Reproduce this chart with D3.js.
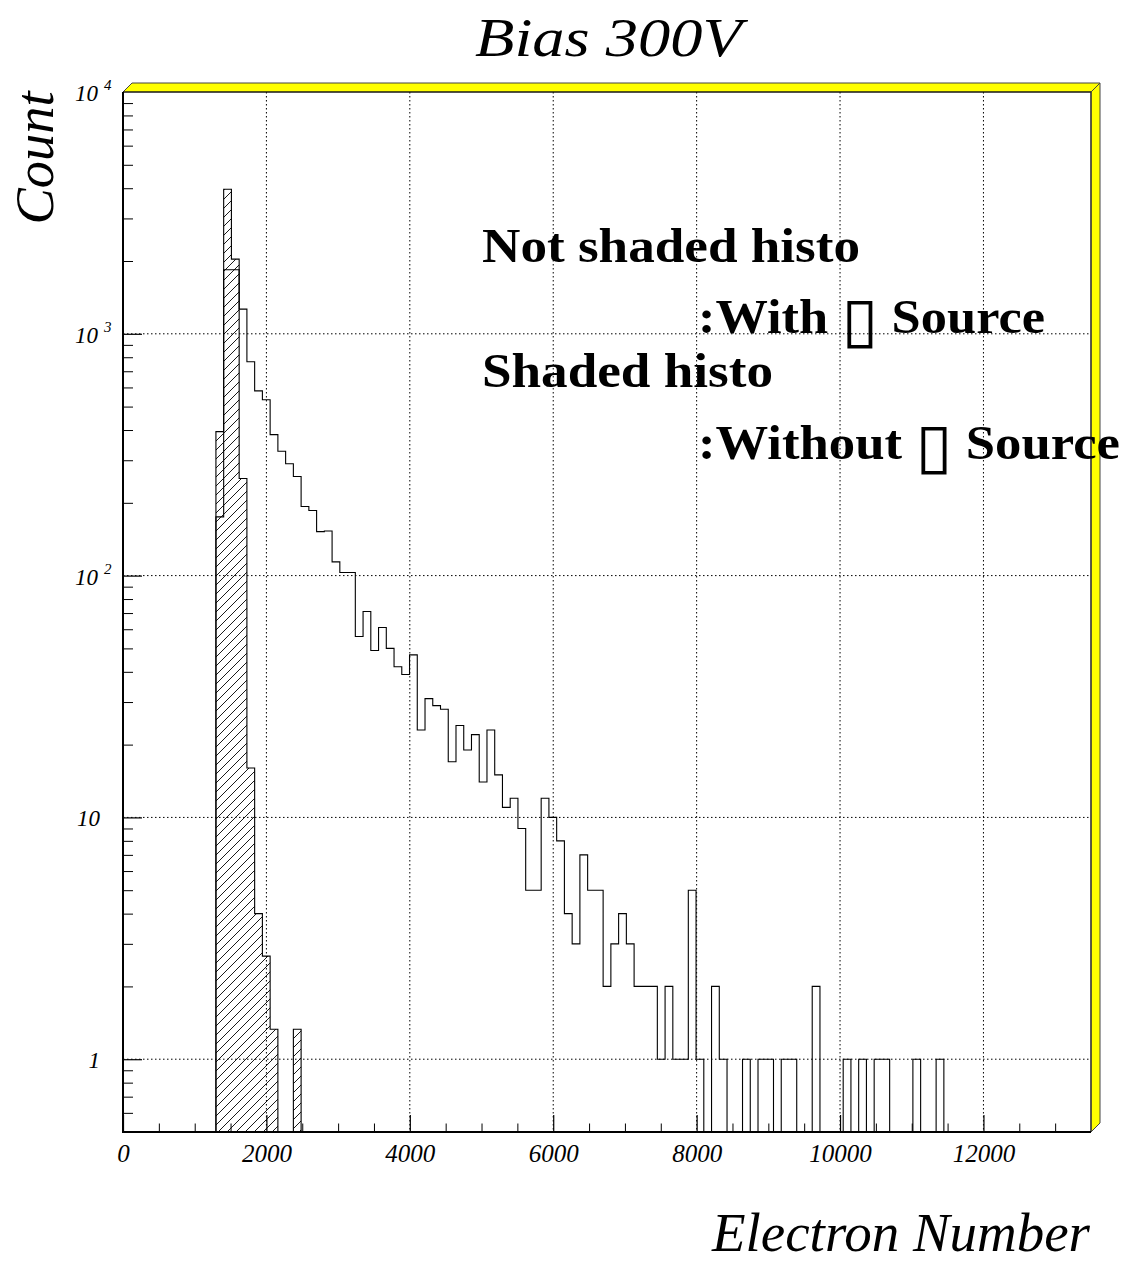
<!DOCTYPE html>
<html>
<head>
<meta charset="utf-8">
<script src="https://cdn.jsdelivr.net/npm/d3@7"></script>
<style>
  body { margin: 0; background: #fff; }
  svg text { font-family: "Liberation Serif", "Times New Roman", serif; }
</style>
</head>
<body>
<div id="chart"></div>
<script>
// Histogram binning (ROOT style): 125 bins from 0 to 13500
const xMin = 0;
const xMax = 13500;
const nBins = 125;
const firstBin = 12; // first non-empty bin of both histograms

// Counts per bin starting at firstBin, "With source" (not shaded)
const withSource = [
  175, 1840, 1840, 1265, 766, 581, 534, 383, 327, 290,
  257, 193, 186, 152, 153, 114, 103, 103, 56, 71,
  49, 61, 50, 42, 39, 47, 23, 31, 29, 28,
  17, 24, 19, 22, 14, 23, 15, 11, 12, 9,
  5, 5, 12, 10, 8, 4, 3, 7, 5, 5,
  2, 3, 4, 3, 2, 2, 2, 1, 2, 1,
  1, 5, 1, 0, 2, 1, 0, 0, 1, 0,
  1, 1, 0, 1, 1, 0, 0, 2, 0, 0,
  0, 1, 0, 1, 0, 1, 1, 0, 0, 0,
  1, 0, 0, 1
];

// Counts per bin starting at firstBin, "Without source" (shaded, normalised)
const withoutSource = [394, 3960, 2036, 252, 16, 4, 2.67, 1.33, 0, 0, 1.33];

// Axis ticks
const xLabelTicks = [0, 2000, 4000, 6000, 8000, 10000, 12000];
const xGridTicks = [2000, 4000, 6000, 8000, 10000, 12000];
const yDecades = [1, 10, 100, 1000, 10000];
const yLabels = [
  { v: 10000, base: "10", exp: "4" },
  { v: 1000, base: "10", exp: "3" },
  { v: 100, base: "10", exp: "2" },
  { v: 10, base: "10", exp: "" },
  { v: 1, base: "1", exp: "" },
];

const titleText = "Bias 300V";
const xTitle = "Electron Number";
const yTitle = "Count";
const boxChar = "\u25AF";
const legendLines = [
  "Not shaded histo",
  ":With " + boxChar + " Source",
  "Shaded histo",
  ":Without " + boxChar + " Source",
];

// Ukuran
const width = 1127;
const height = 1262;
const frame = { left: 123, right: 1091, top: 92, bottom: 1132 };
const bevel = 9;
const yMin = 0.5;

const svg = d3
  .select("#chart")
  .append("svg")
  .attr("width", width)
  .attr("height", height);

svg.append("rect").attr("width", width).attr("height", height).attr("fill", "#fff");

// Scales
const x = d3.scaleLinear().domain([xMin, xMax]).range([frame.left, frame.right]);
const y = d3.scaleLog().domain([yMin, 10000]).range([frame.bottom, frame.top]);

const binWidth = (xMax - xMin) / nBins;

// full bin arrays (empty bins = 0)
function fullBins(values) {
  const arr = new Array(nBins).fill(0);
  values.forEach((v, i) => (arr[firstBin + i] = v));
  return arr;
}

function stepPoints(values) {
  const pts = values.map((v, i) => [xMin + i * binWidth, v]);
  pts.push([xMax, values[values.length - 1]]);
  return pts;
}

const clampY = (v) => y(Math.max(v, yMin));

// Hatch pattern for the shaded histogram
const defs = svg.append("defs");
const hatch = defs
  .append("pattern")
  .attr("id", "hatch")
  .attr("patternUnits", "userSpaceOnUse")
  .attr("width", 9)
  .attr("height", 9);
hatch
  .append("path")
  .attr("d", "M0,9 L9,0 M-1,1 L1,-1 M8,10 L10,8")
  .attr("stroke", "#000")
  .attr("stroke-width", 0.9);

// Grid
const grid = svg.append("g").attr("stroke", "#000").attr("stroke-width", 1).attr("stroke-dasharray", "1.5,2.5");
grid
  .selectAll("line.vx")
  .data(xGridTicks)
  .enter()
  .append("line")
  .attr("x1", (d) => x(d))
  .attr("x2", (d) => x(d))
  .attr("y1", frame.top)
  .attr("y2", frame.bottom);
grid
  .selectAll("line.hy")
  .data(yDecades.slice(0, 4))
  .enter()
  .append("line")
  .attr("x1", frame.left)
  .attr("x2", frame.right)
  .attr("y1", (d) => y(d))
  .attr("y2", (d) => y(d));

// Histograms
const withoutPts = stepPoints(fullBins(withoutSource));
const withPts = stepPoints(fullBins(withSource));

const area = d3
  .area()
  .curve(d3.curveStepAfter)
  .x((d) => x(d[0]))
  .y0(frame.bottom)
  .y1((d) => clampY(d[1]));

const line = d3
  .line()
  .curve(d3.curveStepAfter)
  .x((d) => x(d[0]))
  .y((d) => clampY(d[1]));

svg.append("path").attr("d", area(withoutPts)).attr("fill", "url(#hatch)");
svg
  .append("path")
  .attr("d", line(withoutPts))
  .attr("fill", "none")
  .attr("stroke", "#000")
  .attr("stroke-width", 1.1);
svg
  .append("path")
  .attr("d", line(withPts))
  .attr("fill", "none")
  .attr("stroke", "#000")
  .attr("stroke-width", 1.1);

// Yellow 3D border (top and right)
svg
  .append("path")
  .attr(
    "d",
    `M${frame.left},${frame.top} L${frame.left + bevel},${frame.top - bevel} L${frame.right + bevel},${frame.top - bevel} L${frame.right},${frame.top} Z`
  )
  .attr("fill", "#ffff00")
  .attr("stroke", "#444")
  .attr("stroke-width", 1);
svg
  .append("path")
  .attr(
    "d",
    `M${frame.right},${frame.top} L${frame.right + bevel},${frame.top - bevel} L${frame.right + bevel},${frame.bottom - bevel} L${frame.right},${frame.bottom} Z`
  )
  .attr("fill", "#ffff00")
  .attr("stroke", "#444")
  .attr("stroke-width", 1);

// Axes (ticks inside the frame)
const xMinor = d3.range(0, xMax, 500).filter((d) => d % 2000 !== 0);
const xAxisMajor = svg
  .append("g")
  .attr("transform", `translate(0, ${frame.bottom})`)
  .call(d3.axisBottom(x).tickValues(xLabelTicks).tickSize(-17).tickSizeOuter(0).tickPadding(12).tickFormat(d3.format("d")));
xAxisMajor.select(".domain").remove();
xAxisMajor.selectAll("line").attr("stroke-width", 1.2);
xAxisMajor
  .selectAll("text")
  .attr("font-family", "Liberation Serif, serif")
  .attr("font-style", "italic")
  .attr("font-size", 25)
  .attr("fill", "#000");

const xAxisMinor = svg
  .append("g")
  .attr("transform", `translate(0, ${frame.bottom})`)
  .call(d3.axisBottom(x).tickValues(xMinor).tickSize(-8.5).tickSizeOuter(0).tickFormat(""));
xAxisMinor.select(".domain").remove();

const yMinor = [];
[-1, 0, 1, 2, 3].forEach((e) => {
  d3.range(2, 10).forEach((m) => {
    const v = m * Math.pow(10, e);
    if (v > yMin && v < 10000) yMinor.push(v);
  });
});

const yAxisMajor = svg
  .append("g")
  .attr("transform", `translate(${frame.left}, 0)`)
  .call(d3.axisLeft(y).tickValues(yDecades.slice(0, 4)).tickSize(-19).tickSizeOuter(0).tickFormat(""));
yAxisMajor.select(".domain").remove();
yAxisMajor.selectAll("line").attr("stroke-width", 1.2);

const yAxisMinor = svg
  .append("g")
  .attr("transform", `translate(${frame.left}, 0)`)
  .call(d3.axisLeft(y).tickValues(yMinor).tickSize(-10).tickSizeOuter(0).tickFormat(""));
yAxisMinor.select(".domain").remove();

// Frame lines
svg
  .append("line")
  .attr("x1", frame.left)
  .attr("x2", frame.right)
  .attr("y1", frame.top)
  .attr("y2", frame.top)
  .attr("stroke", "#000")
  .attr("stroke-width", 1);
svg
  .append("line")
  .attr("x1", frame.right)
  .attr("x2", frame.right)
  .attr("y1", frame.top)
  .attr("y2", frame.bottom)
  .attr("stroke", "#333")
  .attr("stroke-width", 1.3);
svg
  .append("line")
  .attr("x1", frame.left)
  .attr("x2", frame.left)
  .attr("y1", frame.top)
  .attr("y2", frame.bottom + 1)
  .attr("stroke", "#000")
  .attr("stroke-width", 2);
svg
  .append("line")
  .attr("x1", frame.left - 1)
  .attr("x2", frame.right)
  .attr("y1", frame.bottom)
  .attr("y2", frame.bottom)
  .attr("stroke", "#000")
  .attr("stroke-width", 2);

// Y labels: 10^n
const yLab = svg.append("g").attr("font-style", "italic").attr("fill", "#000");
yLabels.forEach((d) => {
  const ty = y(d.v);
  if (d.exp) {
    yLab
      .append("text")
      .attr("x", 98)
      .attr("y", ty + 9)
      .attr("text-anchor", "end")
      .attr("font-size", 23)
      .text(d.base);
    yLab
      .append("text")
      .attr("x", 104)
      .attr("y", ty - 2)
      .attr("font-size", 15)
      .text(d.exp);
  } else {
    yLab
      .append("text")
      .attr("x", 100)
      .attr("y", ty + 9)
      .attr("text-anchor", "end")
      .attr("font-size", 23)
      .text(d.base);
  }
});

// Judul
svg
  .append("text")
  .attr("x", 475)
  .attr("y", 56)
  .attr("font-style", "italic")
  .attr("font-size", 54)
  .attr("textLength", 267)
  .attr("lengthAdjust", "spacingAndGlyphs")
  .text(titleText);

svg
  .append("text")
  .attr("x", 1090)
  .attr("y", 1251)
  .attr("text-anchor", "end")
  .attr("font-style", "italic")
  .attr("font-size", 54)
  .attr("textLength", 378)
  .attr("lengthAdjust", "spacingAndGlyphs")
  .text(xTitle);

svg
  .append("text")
  .attr("transform", "translate(53, 158) rotate(-90)")
  .attr("text-anchor", "middle")
  .attr("font-style", "italic")
  .attr("font-size", 54)
  .attr("textLength", 133)
  .attr("lengthAdjust", "spacingAndGlyphs")
  .text(yTitle);

// Legend text (the box glyph drawn thin and tall like the reference)
const legendPos = [
  { x: 482, y: 262, w: 378 },
  { x: 698, y: 333, w: 347 },
  { x: 482, y: 387, w: 291 },
  { x: 698, y: 459, w: 422 },
];
legendLines.forEach((str, i) => {
  const t = svg
    .append("text")
    .attr("class", "legend")
    .attr("x", legendPos[i].x)
    .attr("y", legendPos[i].y)
    .attr("font-weight", "bold")
    .attr("font-size", 48)
    .attr("textLength", legendPos[i].w)
    .attr("lengthAdjust", "spacingAndGlyphs");
  const parts = str.split(boxChar);
  t.append("tspan").text(parts[0]);
  if (parts.length > 1) {
    t.append("tspan")
      .attr("font-weight", "normal")
      .attr("font-family", "DejaVu Sans, sans-serif")
      .attr("font-size", 62)
      .attr("dy", 8)
      .text(boxChar);
    t.append("tspan").attr("dy", -8).text(parts[1]);
  }
});
</script>
</body>
</html>
